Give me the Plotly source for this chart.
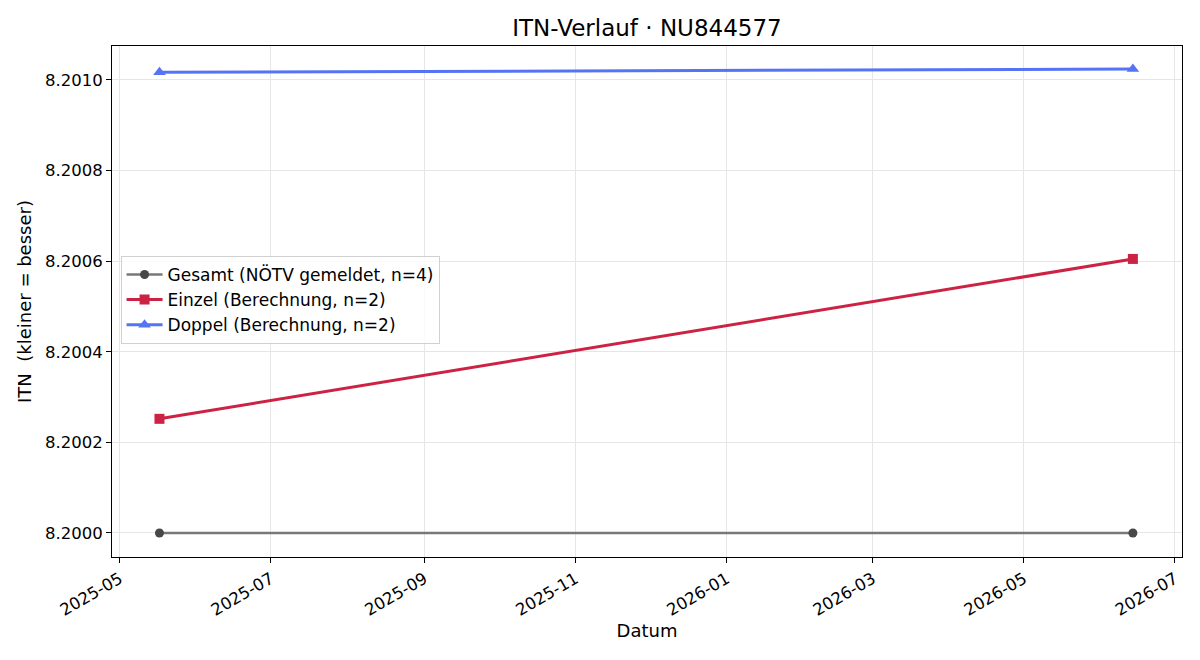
import plotly.graph_objects as go

# data
dates_gesamt = ["2025-05-17", "2026-06-14"]
itn_gesamt = [8.2000, 8.2000]

dates_einzel = ["2025-05-17", "2026-06-14"]
itn_einzel = [8.200252, 8.200605]

dates_doppel = ["2025-05-17", "2026-06-14"]
itn_doppel = [8.201017, 8.201024]

x_ticks = ["2025-05-01", "2025-07-01", "2025-09-01", "2025-11-01",
           "2026-01-01", "2026-03-01", "2026-05-01", "2026-07-01"]
x_ticklabels = ["2025-05", "2025-07", "2025-09", "2025-11",
                "2026-01", "2026-03", "2026-05", "2026-07"]
y_ticks = [8.2000, 8.2002, 8.2004, 8.2006, 8.2008, 8.2010]

fig = go.Figure()
fig.add_trace(go.Scatter(
    x=dates_gesamt, y=itn_gesamt, mode="lines+markers",
    name="Gesamt (NÖTV gemeldet, n=4)",
    line=dict(color="#787878", width=2.5),
    marker=dict(symbol="circle", size=9, color="#484848")))
fig.add_trace(go.Scatter(
    x=dates_einzel, y=itn_einzel, mode="lines+markers",
    name="Einzel (Berechnung, n=2)",
    line=dict(color="#cc2244", width=3),
    marker=dict(symbol="square", size=10, color="#cc2244")))
fig.add_trace(go.Scatter(
    x=dates_doppel, y=itn_doppel, mode="lines+markers",
    name="Doppel (Berechnung, n=2)",
    line=dict(color="#5573f5", width=3),
    marker=dict(symbol="triangle-up", size=11, color="#5573f5")))

axis_common = dict(
    showline=True, linecolor="black", linewidth=1, mirror=True,
    showgrid=True, gridcolor="#e6e6e6", gridwidth=1,
    ticks="outside", ticklen=5, tickcolor="black",
    zeroline=False, tickfont=dict(size=16.5, color="black"),
)

# the page puts the figure 8px in from the corner, margins allow for it
fig.update_layout(
    width=1200, height=660,
    paper_bgcolor="white", plot_bgcolor="white",
    font=dict(family="DejaVu Sans", color="black"),
    title=dict(text="ITN-Verlauf · NU844577", x=0.5325, xanchor="center",
               y=0.970, yanchor="middle", font=dict(size=23)),
    margin=dict(l=104, r=26, t=38, b=111),
    legend=dict(x=0.008, y=0.503, xanchor="left", yanchor="middle",
                bgcolor="rgba(255,255,255,0.8)", bordercolor="#d0d0d0",
                borderwidth=1, font=dict(size=17), itemwidth=36),
    xaxis=dict(axis_common, title=dict(text="Datum", font=dict(size=18), standoff=4),
               tickvals=x_ticks, ticktext=x_ticklabels, tickangle=-30,
               range=["2025-04-27 20:00", "2026-07-03 20:00"]),
    yaxis=dict(axis_common, title=dict(text="ITN  (kleiner = besser)", font=dict(size=18),
                                       standoff=8),
               tickvals=y_ticks, tickformat=".4f",
               range=[8.199947, 8.201075]),
)

fig.write_html("out.html")
